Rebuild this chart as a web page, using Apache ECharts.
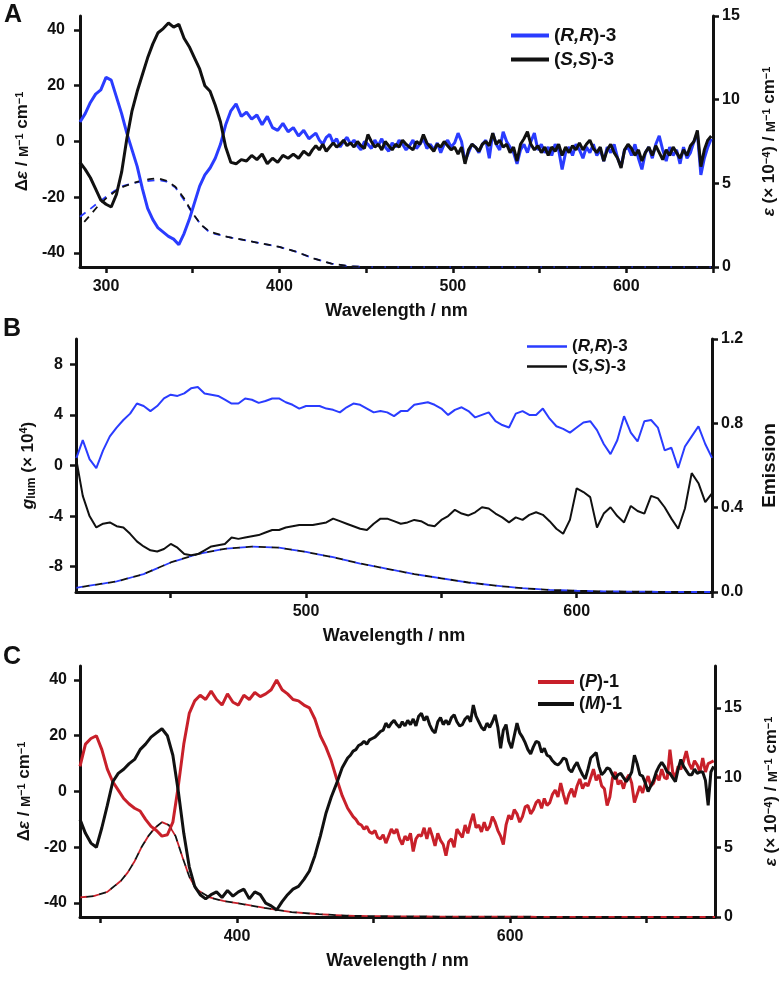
<!DOCTYPE html>
<html><head><meta charset="utf-8">
<script src="https://cdn.jsdelivr.net/npm/echarts@6/dist/echarts.min.js"></script>
<style>html,body{margin:0;padding:0;background:#fff}#c{width:782px;height:983px}</style>
</head><body><div id="c"></div><script>
// ---------- Panel A : CD (left axis) and absorption (right axis) ----------
// segment 1: 285 ... 417 nm, step 3 ; segment 2: 419 ... 649 nm, step 2
const cdA_RR_1 = [7,10,14,17,18.5,23,22,16,10,3,-3,-9,-17,-24,-28,-31,-32.5,-34,-35,-37,-33,-28,-22,-16,-12,-9.5,-6,-1,6,11,13.5,9,10.5,8,9.5,6,9,5,4,6.5,3.5,5,2,4,1];
const cdA_RR_2 = [2,3,0.5,-1,1.5,2.5,-0.5,1,-2,0,1.5,-1,0.5,-1.5,-3,0,-1,-2.5,0.5,-1.5,1,-2,-3.5,-0.5,-2,0.5,-1,-3,-1.5,0.5,-2.5,-1,1,-2.5,-1,-3,-0.5,-4,-1,0.5,-2,-0.5,3,0,-7,-4,-1,-2,-4,-1,0.5,-6,3,-1,-3,3.5,0,-2,-4,-8,-3,-1,-4,0,3,-3,-1,-4,-2,-5,-1,-3,-10,-4,-2,-5,-1,-3,-6,-2,-4,-1,-5,-3,-7,-2,-4,-1,-6,-9,-3,-2,-5,-1,-6,-10,-4,-2,-6,-1,2,-3,-7,-2,-5,-3,-8,-2,-6,-4,0,3,-12,-6,-2,1];
const cdA_SS_1 = [-7.5,-10,-13,-17,-21,-22.5,-23.5,-19,-11,1,11,18,24,30,35,39,40.5,42.5,41,42,37,34,30,26,20,18,13,7,-2,-7.5,-8,-6.5,-7,-5,-6.5,-4.5,-8,-6,-7.5,-5,-6,-4.5,-6,-3.5,-5];
const cdA_SS_2 = [-3,-1.5,-3,-1,-3.5,-2,-0.5,-2,-1,0.5,-1.5,-0.5,-2,0,-1.5,-2.5,2.5,0,-2,-1,-3,0,-1.5,-3,-1,-2,0.5,-1,-2,-3,0,-1,2.5,-0.5,-2,-3.5,-1,-2,0,-1.5,-3,-2,-4.5,-2,-8,-3,-1,-2,-3.5,-1,0,-1.5,3,-1,0.5,-2,-1,-4,-2,-7,-1,1,3.5,-1,-3,-1.5,-4,-2,-5,-2,-3.5,-1,-5,-2,-4,-1.5,-3,-0.5,-3,-1,0.5,-2.5,-4,-2,-7,-3,-1,-4,-6,-9.5,-3,-1,-2.5,-5,-3,-7,-4,-2,-5,-1.5,-4,-6.5,-3,-5,-2,-4,-6,-3,-5,-1.5,0,4,-9,-3,0.5,2];
const absA_wl = [285,290,295,300,305,310,315,320,325,330,335,340,345,350,355,360,370,380,390,400,410,420,430,440,450,500,550,600,650];
const absA_RR = [3.0,3.4,3.8,4.2,4.55,4.85,5.0,5.1,5.15,5.2,5.1,4.75,4.0,3.2,2.5,2.05,1.8,1.6,1.4,1.2,0.9,0.5,0.2,0.05,0,0,0,0,0];
const absA_SS = [2.4,3.0,3.6,4.1,4.5,4.8,5.0,5.15,5.25,5.3,5.15,4.8,4.1,3.2,2.5,2.1,1.8,1.6,1.4,1.2,0.9,0.5,0.2,0.05,0,0,0,0,0];

// ---------- Panel B : glum (left axis) and emission (right axis) ----------
// 415 ... 650 nm, step 2.5
const glum_RR = [0.5,2.0,0.5,-0.2,1.2,2.3,3.0,3.6,4.1,4.9,4.7,4.3,4.7,5.3,5.6,5.5,5.7,6.1,6.2,5.7,5.6,5.5,5.2,4.9,4.9,5.3,5.2,4.95,5.1,5.3,5.3,5.0,4.8,4.5,4.7,4.7,4.7,4.5,4.4,4.2,4.6,4.9,4.8,4.5,4.2,4.3,4.2,3.9,4.3,4.3,4.8,4.9,5.0,4.8,4.5,4.0,4.4,4.6,4.3,3.8,4.0,4.2,3.5,3.2,3.0,4.1,4.3,4.0,4.0,4.5,3.7,3.1,2.9,2.6,3.0,3.4,3.5,2.8,1.7,0.9,2.0,3.9,2.6,1.9,3.5,3.6,3.0,1.2,1.4,-0.2,1.5,2.3,3.1,1.7,0.6];
const glum_SS = [0.6,-2.4,-4.0,-4.9,-4.6,-4.5,-4.8,-4.9,-5.4,-6.0,-6.4,-6.7,-6.8,-6.6,-6.2,-6.5,-7.0,-7.1,-7.0,-6.7,-6.4,-6.3,-6.2,-5.7,-5.8,-5.7,-5.6,-5.5,-5.3,-5.1,-5.1,-4.9,-4.8,-4.7,-4.7,-4.7,-4.6,-4.5,-4.2,-4.4,-4.6,-4.8,-5.0,-5.1,-4.6,-4.2,-4.2,-4.4,-4.6,-4.5,-4.3,-4.4,-4.7,-4.8,-4.3,-4.0,-3.5,-3.8,-3.95,-3.7,-3.3,-3.4,-3.8,-4.1,-4.5,-4.1,-4.3,-3.9,-3.7,-3.9,-4.4,-5.0,-5.4,-4.3,-1.8,-2.1,-2.5,-4.9,-3.8,-3.3,-4.0,-4.5,-3.2,-3.6,-3.8,-2.4,-2.6,-3.3,-4.2,-5.0,-3.4,-0.6,-1.4,-2.9,-2.2];
const em_wl = [415,420,430,440,450,460,470,480,490,500,510,520,530,540,550,560,570,580,590,600,610,620,630,640,650];
const em_val = [0.02,0.03,0.05,0.085,0.14,0.18,0.205,0.215,0.21,0.19,0.165,0.135,0.11,0.085,0.065,0.045,0.03,0.018,0.01,0.006,0.003,0.002,0.001,0,0];

// ---------- Panel C : CD (left axis) and absorption (right axis) ----------
// segment 1: 285 ... 481 nm, step 4 ; segment 2: 483 ... 749 nm, step 2
const cdC_P_1 = [9,17,19,20,15,8,3.5,0.5,-2.5,-4.5,-6,-7,-10,-12.5,-14,-16,-15.5,-11,2,17,28,32.5,34.5,33,36,33,31,35,32,31,34.5,33,35.5,34,35,36.5,40,36.5,35,33,32.5,31,30,26,20,16,11,4.5,-1.5,-6];
const cdC_P_2 = [-7.5,-9,-10,-11.5,-12,-13.5,-12.5,-14.5,-15,-14,-16.5,-17,-15.5,-18.5,-16,-13.5,-15,-13.5,-17,-19,-16,-17.5,-15,-21.5,-17,-15.5,-16,-13,-17,-13,-16,-19.5,-15,-17.5,-19,-23,-18,-17,-20,-13.5,-15,-16.5,-12,-15,-11,-8,-13,-12,-14.5,-11,-14,-12.5,-9,-11,-14,-16,-19,-12,-8.5,-10,-6.5,-8,-11,-9,-5.5,-5,-8,-6.5,-4,-3,-6,-2.5,-5,-4,-1,0.5,-2,3,-1,-4.5,-1,1,-2,2,4.5,1,3,2,5,8,4,6,2,1,-5,-2,5,7,2.5,4,1,4.5,6,3,-4,-1,2,-0.5,3,5.5,2,3,6,4,8,5,4.5,15,7,5,9,8,11,14.5,10,8,11,9.5,7,12,7,10,10.5,11];
const cdC_M_1 = [-10,-15,-18.5,-20,-13,-5,3.5,6.5,8,10,11.5,15,17,19.5,21,22.5,20,13,0,-15,-27,-34,-37,-38.5,-37,-36,-38,-35.5,-37.5,-36,-35,-38.5,-36,-37,-40,-41,-42.5,-39.5,-37,-35,-34,-31.5,-28.5,-23,-16,-8,-2,3,8.5,12];
const cdC_M_2 = [13,14.5,15,16.5,17,18,17,18.5,19,19.5,20.5,21.5,22,24.5,23,24.5,25.5,24,23,25,23.5,25.5,24,26,23.5,27,28,25.5,27,24,22,21,25,26.5,24,25.5,24,26.5,27.5,25,23.5,24,26,27,25,31,27,25,23,22,24.5,23,25,27.5,23,15.5,22,24,18,15.5,20,24.5,21,19.5,17.5,15,13.5,16,18,17.5,14,15.5,13,12.5,11,10,9.5,10.5,12,11.5,8,7,9,10.5,8,6,4.5,8,12,13,14,9,6,7,8.5,8,6,4.5,6,6.5,5,3.5,5,7,13,10,6,5.5,3,0,2,4,7,9,10.5,9,7,6.5,5,3.5,8,11.5,9,7.5,6,6,8,6.5,7,7,4,-5,7,9];
const absC_wl = [285,295,305,315,320,325,330,335,340,345,350,355,360,365,370,380,390,400,420,440,460,480,500,550,600,650,700,750];
const absC_P = [1.4,1.5,1.8,2.6,3.2,4.0,5.0,5.8,6.4,6.8,6.6,5.8,4.3,2.9,2.0,1.4,1.15,1.0,0.65,0.35,0.2,0.1,0.06,0.03,0.02,0.01,0,0];
const absC_M = [1.4,1.5,1.8,2.6,3.2,4.0,5.0,5.8,6.4,6.8,6.6,5.8,4.3,2.9,2.0,1.4,1.15,1.0,0.65,0.35,0.2,0.1,0.06,0.03,0.02,0.01,0,0];

// ---------- axis ticks / labels ----------
const xTicksA = [300,350,400,450,500,550,600,650], xLabelsA = [300,400,500,600];
const yTicksA = [-40,-20,0,20,40], yTicksA2 = [0,5,10,15];
const xTicksB = [450,500,550,600,650], xLabelsB = [500,600];
const yTicksB = [-8,-4,0,4,8], yTicksB2 = [0,0.4,0.8,1.2];
const xTicksC = [300,400,500,600,700], xLabelsC = [400,600];
const yTicksC = [-40,-20,0,20,40], yTicksC2 = [0,5,10,15];

// ---------- helpers ----------
const grid0 = (start, step, vals) => vals.map((v, i) => [start + i * step, v]);
const pairs = (xs, ys) => xs.map((x, i) => [x, ys[i]]);
const FONT = '"Liberation Sans", Arial, Helvetica, sans-serif';
const INK = '#111111', BLUE = '#2a3cff', RED = '#c8202a';
const bold = (size) => ({fontFamily: FONT, fontWeight: 'bold', fontSize: size, color: INK});
const tickLine = {color: INK, width: 2.5};

function xAxis(gi, min, max, ticks, labels) {
  return {
    type: 'value', gridIndex: gi, min, max,
    axisLine: {onZero: false, lineStyle: {color: INK, width: 3}},
    axisTick: {show: true, length: 6, customValues: ticks, lineStyle: tickLine},
    axisLabel: Object.assign({customValues: labels, margin: 12}, bold(16)),
    splitLine: {show: false},
    name: 'Wavelength / nm', nameLocation: 'middle', nameGap: 35,
    nameTextStyle: bold(18)
  };
}
function yAxis(gi, pos, min, max, ticks, margin, fmt, name, gap, nameStyle) {
  return {
    type: 'value', gridIndex: gi, position: pos, min, max,
    axisLine: {show: true, onZero: false, lineStyle: {color: INK, width: 3}},
    axisTick: {show: true, length: 6, customValues: ticks, lineStyle: tickLine},
    axisLabel: Object.assign({customValues: ticks, margin, formatter: fmt}, bold(16)),
    splitLine: {show: false},
    name, nameLocation: 'middle', nameGap: gap, nameTextStyle: nameStyle
  };
}
const richName = {rich: {
  i: {fontFamily: FONT, fontWeight: 'bold', fontStyle: 'italic', fontSize: 17, color: INK},
  n: {fontFamily: FONT, fontWeight: 'bold', fontSize: 17, color: INK},
  sc: {fontFamily: FONT, fontWeight: 'bold', fontSize: 13, color: INK, verticalAlign: 'bottom'},
  sup: {fontFamily: FONT, fontWeight: 'bold', fontSize: 11, color: INK, verticalAlign: 'top'},
  sub: {fontFamily: FONT, fontWeight: 'bold', fontSize: 12, color: INK, verticalAlign: 'bottom', padding: [7, 0, 0, 0]}
}};
const cdName = '{n|Δ}{i|ε}{n| / }{sc|M}{sup|−1}{n| cm}{sup|−1}';
const epsName = '{i|ε}{n| (× 10}{sup|−4}{n|) / }{sc|M}{sup|−1}{n| cm}{sup|−1}';
const glumName = '{i|g}{sub|lum}{n| (× 10}{sup|4}{n|)}';
const legendFmt = (name) => name.replace(/\(([^)]+)\)/, (m, g) => '({i|' + g + '})');
const legendText = (size) => ({
  fontFamily: FONT, fontWeight: 'bold', fontSize: size, color: INK,
  rich: {i: {fontFamily: FONT, fontWeight: 'bold', fontStyle: 'italic', fontSize: size, color: INK}}
});
function line(name, xi, yi, data, color, width, dashed, z) {
  return {
    name, type: 'line', xAxisIndex: xi, yAxisIndex: yi, data,
    showSymbol: false, symbol: 'none', animation: false, z: z || 2,
    lineStyle: {color, width, type: dashed ? [7, 6] : 'solid', dashOffset: dashed === 2 ? 6.5 : 0},
    itemStyle: {color}, emphasis: {disabled: true}
  };
}
const fmt1 = v => v.toFixed(1), fmt0 = v => String(v);

const option = {
  animation: false,
  backgroundColor: '#ffffff',
  grid: [
    {left: 80, top: 16, width: 633, height: 251, outerBoundsMode: 'none', containLabel: false},
    {left: 76, top: 339, width: 636, height: 253, outerBoundsMode: 'none', containLabel: false},
    {left: 80, top: 666, width: 635, height: 251, outerBoundsMode: 'none', containLabel: false}
  ],
  xAxis: [
    xAxis(0, 285, 650, xTicksA, xLabelsA),
    xAxis(1, 415, 650, xTicksB, xLabelsB),
    xAxis(2, 285, 750, xTicksC, xLabelsC)
  ],
  yAxis: [
    yAxis(0, 'left', -45, 45, yTicksA, 15, fmt0, cdName, 38, richName),
    yAxis(0, 'right', 0, 15, yTicksA2, 9, fmt0, epsName, 48, richName),
    yAxis(1, 'left', -10, 10, yTicksB, 13, fmt0, glumName, 36, richName),
    yAxis(1, 'right', 0, 1.2, yTicksB2, 9, fmt1, 'Emission', 48, bold(19)),
    yAxis(2, 'left', -45, 45, yTicksC, 13, fmt0, cdName, 40, richName),
    yAxis(2, 'right', 0, 18, yTicksC2, 9, fmt0, epsName, 48, richName)
  ],
  legend: [
    {orient: 'vertical', left: 506, top: 21, icon: 'rect', itemWidth: 38, itemHeight: 4, itemGap: 5,
     data: ['(R,R)-3', '(S,S)-3'], formatter: legendFmt, textStyle: legendText(19), selectedMode: false},
    {orient: 'vertical', left: 522, top: 333, icon: 'rect', itemWidth: 40, itemHeight: 2.5, itemGap: 3,
     data: ['(R,R)-3', '(S,S)-3'], formatter: legendFmt, textStyle: legendText(17), selectedMode: false},
    {orient: 'vertical', left: 533, top: 668, icon: 'rect', itemWidth: 36, itemHeight: 4, itemGap: 4,
     data: ['(P)-1', '(M)-1'], formatter: legendFmt, textStyle: legendText(18), selectedMode: false}
  ],
  graphic: [
    {type: 'text', left: 4, top: 3, style: {text: 'A', font: 'bold 25px ' + FONT, fill: INK}},
    {type: 'text', left: 3, top: 317, style: {text: 'B', font: 'bold 25px ' + FONT, fill: INK}},
    {type: 'text', left: 3, top: 645, style: {text: 'C', font: 'bold 25px ' + FONT, fill: INK}}
  ],
  series: [
    line('absA_RR', 0, 1, pairs(absA_wl, absA_RR), BLUE, 1.8, 1, 1),
    line('absA_SS', 0, 1, pairs(absA_wl, absA_SS), INK, 1.8, 2, 1),
    line('(R,R)-3', 0, 0, grid0(285, 3, cdA_RR_1).concat(grid0(419, 2, cdA_RR_2)), BLUE, 3, false, 2),
    line('(S,S)-3', 0, 0, grid0(285, 3, cdA_SS_1).concat(grid0(419, 2, cdA_SS_2)), INK, 3, false, 3),

    line('em_RR', 1, 3, pairs(em_wl, em_val), BLUE, 1.8, 1, 1),
    line('em_SS', 1, 3, pairs(em_wl, em_val), INK, 1.8, 2, 1),
    line('(R,R)-3', 1, 2, grid0(415, 2.5, glum_RR), BLUE, 2, false, 2),
    line('(S,S)-3', 1, 2, grid0(415, 2.5, glum_SS), INK, 2, false, 3),

    line('absC_P', 2, 5, pairs(absC_wl, absC_P), RED, 1.8, 1, 1),
    line('absC_M', 2, 5, pairs(absC_wl, absC_M), INK, 1.8, 2, 1),
    line('(P)-1', 2, 4, grid0(285, 4, cdC_P_1).concat(grid0(483, 2, cdC_P_2)), RED, 3, false, 2),
    line('(M)-1', 2, 4, grid0(285, 4, cdC_M_1).concat(grid0(483, 2, cdC_M_2)), INK, 3, false, 3)
  ]
};
const chart = echarts.init(document.getElementById('c'), null, {renderer: 'canvas'});
chart.setOption(option);
</script></body></html>
